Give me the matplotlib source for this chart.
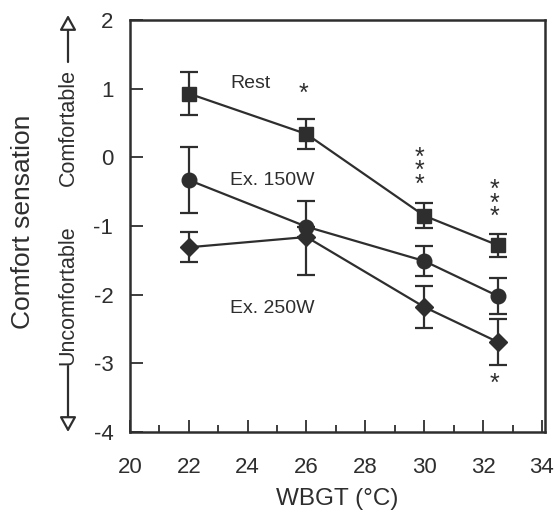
import matplotlib
matplotlib.use("Agg")
from matplotlib import pyplot as plt

plt.rcParams['font.family'] = ['Liberation Sans', 'DejaVu Sans']
plt.rcParams['axes.unicode_minus'] = False

wbgt = [22, 26, 30, 32.5]

rest = [0.93, 0.34, -0.85, -1.28]
rest_err = [0.31, 0.22, 0.18, 0.17]

ex150 = [-0.33, -1.01, -1.51, -2.02]
ex150_lo = [0.48, 0.0, 0.22, 0.26]
ex150_hi = [0.48, 0.38, 0.22, 0.26]

ex250 = [-1.31, -1.16, -2.18, -2.69]
ex250_lo = [0.22, 0.55, 0.31, 0.33]
ex250_hi = [0.22, 0.0, 0.31, 0.33]

ink = '#2e2e2e'

fig = plt.figure(figsize=(5.6, 5.16), dpi=100)
ax = fig.add_axes([0.232, 0.163, 0.741, 0.798])

style = dict(color=ink, lw=1.6, markersize=10.5, capsize=6.5,
             elinewidth=1.6, capthick=1.6)
ax.errorbar(wbgt, rest, yerr=rest_err, marker='s', **style)
ax.errorbar(wbgt, ex150, yerr=[ex150_lo, ex150_hi], marker='o', **style)
ax.errorbar(wbgt, ex250, yerr=[ex250_lo, ex250_hi], marker='D',
            **dict(style, markersize=9))

label_font = {'fontsize': 14, 'color': ink}
ax.text(23.4, 1.08, 'Rest', va='center', **label_font)
ax.text(23.4, -0.33, 'Ex. 150W', va='center', **label_font)
ax.text(23.4, -2.2, 'Ex. 250W', va='center', **label_font)

star = {'fontsize': 18, 'color': ink, 'ha': 'center', 'va': 'center',
        'linespacing': 0.46}
ax.text(25.9, 0.92, '*', **star)
ax.text(29.85, -0.2, '*\n*\n*', **star)
ax.text(32.4, -0.67, '*\n*\n*', **star)
ax.text(32.4, -3.3, '*', **star)

ax.set_xlim(20, 34.1)
ax.set_ylim(-4, 2)
ax.set_xticks(range(20, 35, 2))
ax.set_xticks(range(21, 34, 2), minor=True)
ax.set_yticks(range(-4, 3))
ax.tick_params(which='both', direction='in', color=ink, width=1.3,
               labelsize=16, labelcolor=ink, top=False, right=False)
ax.tick_params(which='major', length=9)
ax.tick_params(which='minor', length=5)
ax.tick_params(axis='x', pad=18)
ax.tick_params(axis='y', pad=12)
for sp in ax.spines.values():
    sp.set_linewidth(1.8)
    sp.set_color(ink)

ax.set_xlabel('WBGT (°C)', fontsize=17.5, color=ink, labelpad=7)
fig.text(0.041, 0.57, 'Comfort sensation', rotation=90, fontsize=19,
         color=ink, ha='center', va='center')

fig.text(68 / 560, 1 - 127 / 516, 'Comfortable', rotation=90, fontsize=15.5,
         color=ink, ha='center', va='center')
fig.text(68 / 560, 1 - 295 / 516, 'Uncomfortable', rotation=90, fontsize=15.5,
         color=ink, ha='center', va='center')

arrow = dict(arrowstyle='-|>,head_length=0.9,head_width=0.5',
             fc='white', ec=ink, lw=1.6, shrinkA=0, shrinkB=0)
ax.annotate('', xy=(68, 516 - 15), xytext=(68, 516 - 62),
            xycoords='figure pixels', textcoords='figure pixels',
            arrowprops=arrow, annotation_clip=False)
ax.annotate('', xy=(68, 516 - 432), xytext=(68, 516 - 366),
            xycoords='figure pixels', textcoords='figure pixels',
            arrowprops=arrow, annotation_clip=False)

fig.savefig('out.png', dpi=100)
